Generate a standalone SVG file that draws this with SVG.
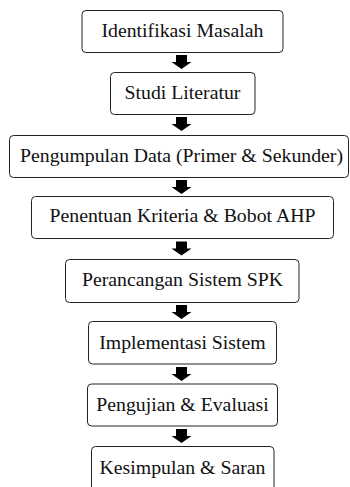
<svg xmlns="http://www.w3.org/2000/svg" width="350" height="487" viewBox="0 0 350 487">
<style>
.box{fill:#fff;stroke:#222;stroke-width:1}
.t{font-family:'Liberation Serif','Times New Roman',serif;font-size:19.8px;fill:#111;text-anchor:middle}
.arr{fill:#000}
</style>
<defs>
<path id="a" d="M-5.5,0 H5.5 V7 H10 L0,14 L-10,7 H-5.5 Z"/>
</defs>
<rect width="350" height="487" fill="#fff"/>
<g id="connectors">
<use href="#a" class="arr" x="181.5" y="55"/>
<use href="#a" class="arr" x="181.5" y="117"/>
<use href="#a" class="arr" x="181.5" y="180"/>
<use href="#a" class="arr" x="181.5" y="241.5"/>
<use href="#a" class="arr" x="181.5" y="305"/>
<use href="#a" class="arr" x="181.5" y="367"/>
<use href="#a" class="arr" x="181.5" y="429"/>
</g>
<g id="n1"><rect class="box" x="82" y="10.5" width="201" height="42" rx="4"/><text class="t" x="182.5" y="36.5">Identifikasi Masalah</text></g>
<g id="n2"><rect class="box" x="110.5" y="72.5" width="144.5" height="42" rx="4"/><text class="t" x="182.5" y="99">Studi Literatur</text></g>
<g id="n3"><rect class="box" x="9.5" y="135.5" width="339" height="42" rx="4"/><text class="t" x="181.5" y="162">Pengumpulan Data (Primer &amp; Sekunder)</text></g>
<g id="n4"><rect class="box" x="31.5" y="196.5" width="302" height="42" rx="4"/><text class="t" x="182.5" y="222">Penentuan Kriteria &amp; Bobot AHP</text></g>
<g id="n5"><rect class="box" x="65.5" y="259.5" width="233.5" height="43" rx="4"/><text class="t" x="182.5" y="286">Perancangan Sistem SPK</text></g>
<g id="n6"><rect class="box" x="88.5" y="321.5" width="188" height="42.5" rx="4"/><text class="t" x="182.5" y="348.5">Implementasi Sistem</text></g>
<g id="n7"><rect class="box" x="87.5" y="384" width="190" height="42" rx="4"/><text class="t" x="182.5" y="410.5">Pengujian &amp; Evaluasi</text></g>
<g id="n8"><rect class="box" x="91.5" y="446.5" width="182.5" height="45" rx="4"/><text class="t" x="182.5" y="473.5">Kesimpulan &amp; Saran</text></g>
</svg>
